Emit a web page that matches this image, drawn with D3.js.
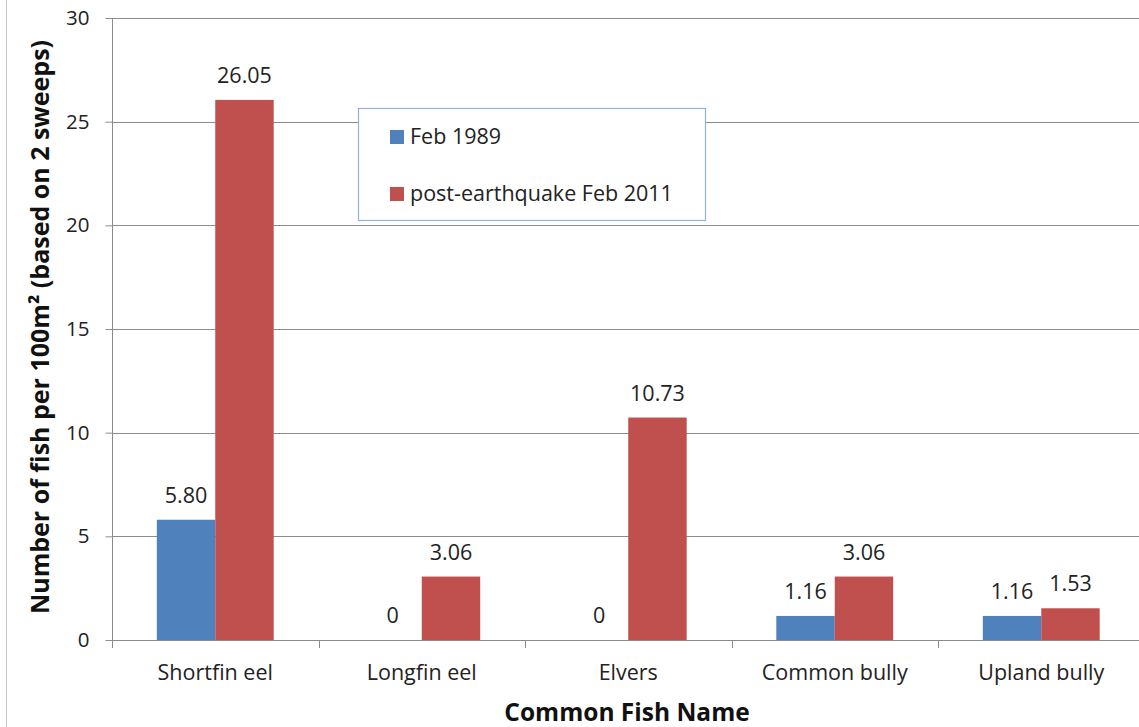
<!DOCTYPE html>
<html><head><meta charset="utf-8">
<script src="https://cdn.jsdelivr.net/npm/d3@7"></script>
<style>
body{margin:0;background:#fff;}
svg{display:block;font-family:"Open Sans",sans-serif;}
</style></head>
<body><svg id="c" width="1139" height="727"></svg>
<script>
const categories = ["Shortfin eel","Longfin eel","Elvers","Common bully","Upland bully"];
const seriesNames = ["Feb 1989","post-earthquake Feb 2011"];
const feb1989 = [5.80, 0, 0, 1.16, 1.16];
const feb2011 = [26.05, 3.06, 10.73, 3.06, 1.53];
const yTicks = [0,5,10,15,20,25,30];
const colors = ["#4F81BD","#C0504D"];

const svg = d3.select("#c");
const pL = 112, pR = 1144.5, pT = 18, pB = 640;
const FS = 21.5;

svg.append("line").attr("x1",6.5).attr("x2",6.5).attr("y1",0).attr("y2",727)
  .attr("stroke","#c8c8c8").attr("stroke-width",1);

const x = d3.scaleBand().domain(categories).range([pL,pR]).paddingInner(0.434).paddingOuter(0.217);
const x1 = d3.scaleBand().domain([0,1]).range([0,x.bandwidth()]);
const y = d3.scaleLinear().domain([0,30]).range([pB,pT]);

// gridlines
svg.append("g").selectAll("line").data(yTicks.filter(d=>d>0)).join("line")
  .attr("x1",pL).attr("x2",1139).attr("y1",d=>Math.round(y(d))+0.5).attr("y2",d=>Math.round(y(d))+0.5)
  .attr("stroke","#8c8c8c").attr("stroke-width",1);

// y axis
const ya = svg.append("g").attr("transform",`translate(${pL+0.5},0)`)
  .call(d3.axisLeft(y).tickValues(yTicks).tickSize(7).tickPadding(16).tickFormat(d3.format("d")));
ya.select(".domain").attr("stroke","#8c8c8c").attr("d",`M0,${pT}V${pB+0.5}`);
ya.selectAll(".tick line").attr("stroke","#8c8c8c");
ya.selectAll(".tick text").attr("font-size",20.5).attr("fill","#222").attr("font-family","Open Sans");

// x axis
const boundaries = d3.range(categories.length+1).map(i=> pL + i*(pR-pL)/categories.length);
const xa = svg.append("g");
xa.append("line").attr("x1",pL).attr("x2",1139).attr("y1",pB+0.5).attr("y2",pB+0.5).attr("stroke","#8c8c8c");
xa.selectAll(".tk").data(boundaries).join("line").attr("class","tk")
  .attr("x1",d=>Math.round(d)+0.5).attr("x2",d=>Math.round(d)+0.5).attr("y1",pB).attr("y2",pB+8).attr("stroke","#8c8c8c");
xa.selectAll("text").data(categories).join("text")
  .attr("x",d=>x(d)+x.bandwidth()/2).attr("y",680).attr("text-anchor","middle")
  .attr("font-size",FS).attr("fill","#222").text(d=>d);

// bars
const data = categories.map((c,i)=>({c, v:[feb1989[i],feb2011[i]]}));
const g = svg.append("g");
data.forEach(d=>{
  d.v.forEach((v,s)=>{
    const bx = x(d.c)+x1(s);
    g.append("rect").attr("x",bx).attr("width",x1.bandwidth())
      .attr("y",y(v)).attr("height",y(0)-y(v)).attr("fill",colors[s]);
    g.append("text").attr("x",bx+x1.bandwidth()/2).attr("y",y(v)-17)
      .attr("text-anchor","middle").attr("font-size",FS).attr("fill","#222")
      .text(v===0?"0":v.toFixed(2));
  });
});

// legend
const lg = svg.append("g");
lg.append("rect").attr("x",358.5).attr("y",108.5).attr("width",347).attr("height",112)
  .attr("fill","#fff").attr("stroke","#95B3D7").attr("stroke-width",1.2);
seriesNames.forEach((n,i)=>{
  const yy = 130 + i*57;
  lg.append("rect").attr("x",390).attr("y",yy).attr("width",14).attr("height",14).attr("fill",colors[i]);
  lg.append("text").attr("x",410).attr("y",yy+14).attr("font-size",FS).attr("fill","#222").text(n);
});

// axis titles
svg.append("text").attr("x",627).attr("y",721).attr("text-anchor","middle")
  .attr("font-size",24.5).attr("font-weight","bold").attr("fill","#111").text("Common Fish Name");
svg.append("text").attr("transform","translate(49,327) rotate(-90)").attr("text-anchor","middle")
  .attr("font-size",25).attr("font-weight","bold").attr("fill","#111")
  .text("Number of fish per 100m² (based on 2 sweeps)");
</script></body></html>
